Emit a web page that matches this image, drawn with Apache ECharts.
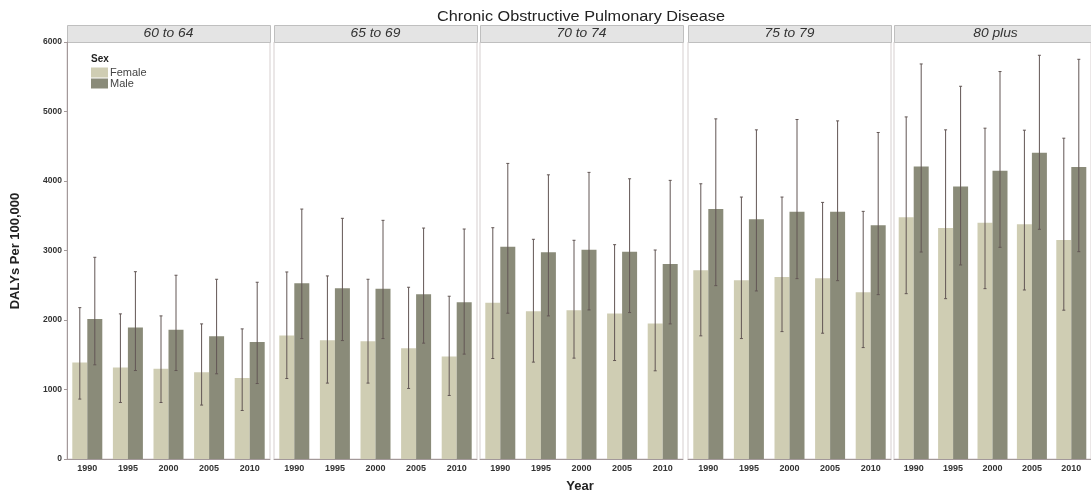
<!DOCTYPE html>
<html>
<head>
<meta charset="utf-8">
<title>Chronic Obstructive Pulmonary Disease</title>
<script src="https://cdn.jsdelivr.net/npm/echarts@6/dist/echarts.min.js"></script>
<style>
  html, body { margin: 0; padding: 0; background: #fff; }
  #chart { width: 1091px; height: 493px; }
</style>
</head>
<body>
<div id="chart"></div>
<script type="text/javascript">
// data (DALYs per 100,000)
var years = ['1990', '1995', '2000', '2005', '2010'];
var ageGroups = ['60 to 64', '65 to 69', '70 to 74', '75 to 79', '80 plus'];

// one row per age group, one value per year
var femaleMean = [
  [1390, 1316, 1297, 1250, 1164],
  [1776, 1710, 1695, 1595, 1474],
  [2250, 2126, 2141, 2092, 1948],
  [2716, 2572, 2619, 2600, 2399],
  [3477, 3323, 3399, 3376, 3151]
];
var femaleLow = [
  [862, 813, 813, 776, 698],
  [1158, 1092, 1092, 1015, 914],
  [1446, 1394, 1451, 1417, 1269],
  [1772, 1733, 1833, 1810, 1603],
  [2379, 2307, 2451, 2432, 2141]
];
var femaleHigh = [
  [2178, 2088, 2059, 1944, 1872],
  [2691, 2634, 2586, 2471, 2342],
  [3328, 3161, 3147, 3084, 3007],
  [3960, 3769, 3769, 3692, 3563],
  [4922, 4736, 4760, 4731, 4616]
];
var maleMean = [
  [2016, 1891, 1858, 1767, 1685],
  [2529, 2457, 2451, 2371, 2256],
  [3055, 2974, 3012, 2983, 2806],
  [3596, 3448, 3557, 3557, 3362],
  [4210, 3922, 4147, 4405, 4200]
];
var maleLow = [
  [1355, 1273, 1273, 1226, 1086],
  [1733, 1704, 1733, 1667, 1509],
  [2098, 2059, 2145, 2107, 1944],
  [2494, 2418, 2595, 2566, 2365],
  [2978, 2792, 3046, 3305, 2983]
];
var maleHigh = [
  [2902, 2695, 2644, 2586, 2543],
  [3596, 3463, 3434, 3323, 3309],
  [4253, 4089, 4124, 4032, 4009],
  [4894, 4736, 4885, 4865, 4698],
  [5684, 5363, 5575, 5809, 5751]
];

var femaleColor = '#cfcdb3';
var maleColor = '#8a8b79';
var whiskerColor = '#625654';
var font = '"Liberation Sans", Arial, sans-serif';

var panelLefts = [67, 274, 480, 688, 894];
var panelWidth = 203;
var panelTop = 42;
var panelHeight = 417;
var barW = 15;

var myChart = echarts.init(document.getElementById('chart'), null, {renderer: 'canvas'});

var grids = [], xAxes = [], yAxes = [], series = [], graphics = [];

// error bars: value = [category index, low, high], shifted to the bar of its sex
function whiskers(offset) {
  return function (params, api) {
    var lo = api.coord([api.value(0), api.value(1)]);
    var hi = api.coord([api.value(0), api.value(2)]);
    var x = lo[0] + offset;
    var st = {stroke: whiskerColor, lineWidth: 1};
    return {
      type: 'group',
      children: [
        {type: 'line', shape: {x1: x, y1: lo[1], x2: x, y2: hi[1]}, style: st},
        {type: 'line', shape: {x1: x - 1.5, y1: lo[1], x2: x + 1.5, y2: lo[1]}, style: st},
        {type: 'line', shape: {x1: x - 1.5, y1: hi[1], x2: x + 1.5, y2: hi[1]}, style: st}
      ]
    };
  };
}

for (var i = 0; i < ageGroups.length; i++) {
  grids.push({
    left: panelLefts[i], top: panelTop, width: panelWidth, height: panelHeight,
    show: true, borderColor: '#d6cfcf', borderWidth: 1, backgroundColor: '#fff'
  });
  xAxes.push({
    type: 'category', gridIndex: i, data: years,
    axisLine: {lineStyle: {color: '#a3999a', width: 1}},
    axisTick: {alignWithLabel: true, length: 3, lineStyle: {color: '#a3999a'}},
    axisLabel: {color: '#333', fontFamily: font, fontWeight: 'bold', fontSize: 9, margin: 5}
  });
  yAxes.push({
    type: 'value', gridIndex: i, min: 0, max: 6000, interval: 1000,
    splitLine: {show: false},
    axisLine: {show: i === 0, lineStyle: {color: '#a3999a'}},
    axisTick: {show: i === 0, length: 3, lineStyle: {color: '#a3999a'}},
    axisLabel: {show: i === 0, color: '#333', fontFamily: font, fontWeight: 'bold', fontSize: 8.5, margin: 5,
                formatter: function (v) { return String(v); }}
  });
  series.push({
    name: 'Female', type: 'bar', xAxisIndex: i, yAxisIndex: i,
    data: femaleMean[i], barWidth: barW, barGap: '0%',
    itemStyle: {color: femaleColor}
  });
  series.push({
    name: 'Male', type: 'bar', xAxisIndex: i, yAxisIndex: i,
    data: maleMean[i], barWidth: barW, barGap: '0%',
    itemStyle: {color: maleColor}
  });
  series.push({
    type: 'custom', xAxisIndex: i, yAxisIndex: i, z: 5,
    renderItem: whiskers(-barW / 2),
    data: femaleLow[i].map(function (v, k) { return [k, v, femaleHigh[i][k]]; })
  });
  series.push({
    type: 'custom', xAxisIndex: i, yAxisIndex: i, z: 5,
    renderItem: whiskers(barW / 2),
    data: maleLow[i].map(function (v, k) { return [k, v, maleHigh[i][k]]; })
  });
  // facet strip
  graphics.push({
    type: 'rect', left: panelLefts[i], top: 25,
    shape: {width: panelWidth, height: 17},
    style: {fill: '#e4e4e4', stroke: '#bfbfbf', lineWidth: 1}
  });
  graphics.push({
    type: 'text', x: panelLefts[i] + panelWidth / 2, y: 34, scaleX: 1.15,
    style: {text: ageGroups[i], font: 'italic 12px ' + font, fill: '#333',
            textAlign: 'center', textVerticalAlign: 'middle'}
  });
}

graphics.push({
  type: 'text', x: 91, y: 54,
  style: {text: 'Sex', font: 'bold 10px ' + font, fill: '#222'}
});

var option = {
  animation: false,
  legend: {
    data: ['Female', 'Male'], orient: 'vertical', left: 91, top: 67,
    itemWidth: 17, itemHeight: 10, itemGap: 0, padding: 0,
    icon: 'rect',
    textStyle: {fontFamily: font, fontSize: 11, lineHeight: 10, color: '#444', padding: [0, 0, 0, -3]}
  },
  grid: grids,
  xAxis: xAxes,
  yAxis: yAxes,
  series: series,
  graphic: graphics.concat([
    {
      type: 'text', x: 581, y: 17, scaleX: 1.16,
      style: {text: 'Chronic Obstructive Pulmonary Disease', font: '14px ' + font, fill: '#222',
              textAlign: 'center', textVerticalAlign: 'middle'}
    },
    {
      type: 'text', x: 580, y: 486,
      style: {text: 'Year', font: 'bold 13px ' + font, fill: '#222',
              textAlign: 'center', textVerticalAlign: 'middle'}
    },
    {
      type: 'text', x: 15, y: 251, rotation: Math.PI / 2,
      style: {text: 'DALYs Per 100,000', font: 'bold 13px ' + font, fill: '#222',
              textAlign: 'center', textVerticalAlign: 'middle'}
    }
  ])
};

myChart.setOption(option);
</script>
</body>
</html>
